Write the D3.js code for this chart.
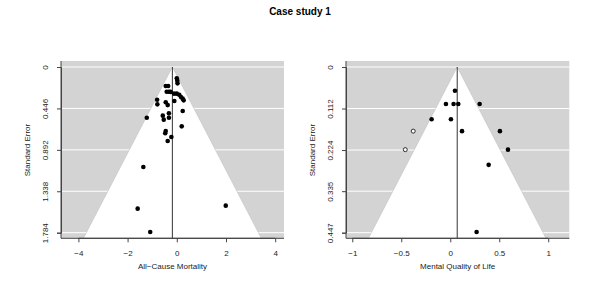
<!DOCTYPE html>
<html><head><meta charset="utf-8">
<script src="https://cdn.jsdelivr.net/npm/d3@7"></script>
<style>body{margin:0;background:#fff}svg{display:block}text{font-family:"Liberation Sans",Arial,sans-serif}</style>
</head><body>
<svg id="c" width="600" height="300"></svg>
<script>
const title = "Case study 1";
// Panel 1: All-Cause Mortality
const mortEst = [0.0,0.02,0.03,-0.45,-0.35,-0.41,-0.32,-0.25,-0.11,0.0,0.10,0.17,0.24,0.28,-0.10,-0.80,-0.79,-0.45,-0.37,0.24,-1.22,-0.57,-0.53,-0.32,-0.32,0.20,-0.45,-0.47,-0.22,-0.37,-1.36,-1.59,1.99,-1.08];
const mortSE  = [0.122,0.147,0.176,0.205,0.205,0.266,0.266,0.268,0.287,0.287,0.300,0.323,0.341,0.359,0.366,0.352,0.402,0.380,0.410,0.474,0.546,0.524,0.567,0.499,0.546,0.639,0.689,0.714,0.754,0.797,1.077,1.525,1.493,1.777];
const mortCenter = -0.18;
const mortXTicks = [-4,-2,0,2,4];
const mortYTicks = [0,0.446,0.892,1.338,1.784];
const mortYLabels = ["0","0.446","0.892","1.338","1.784"];
// Panel 2: Mental Quality of Life
const mqolEst = [0.048,-0.044,0.034,0.082,0.30,-0.19,0.007,0.12,0.507,0.589,0.392,0.269,-0.378,-0.459];
const mqolSE  = [0.064,0.100,0.100,0.100,0.100,0.141,0.141,0.173,0.173,0.223,0.264,0.445,0.173,0.223];
const mqolFilled = [1,1,1,1,1,1,1,1,1,1,1,1,0,0];
const mqolCenter = 0.071;
const mqolXTicks = [-1,-0.5,0,0.5,1];
const mqolYTicks = [0,0.112,0.224,0.335,0.447];
const mqolYLabels = ["0","0.112","0.224","0.335","0.447"];

const svg = d3.select("#c");
svg.append("text").attr("x",300).attr("y",15).attr("text-anchor","middle")
  .attr("font-size","10px").attr("font-weight","bold").text(title);

function panel(cfg){
  const g = svg.append("g");
  const x = d3.scaleLinear().domain(cfg.xdom).range([cfg.left, cfg.right]);
  const y = d3.scaleLinear().domain([0, cfg.ymaxTick]).range([67, 232.7]);
  const top = 61, bot = 238.3;
  const ybot = y.invert(bot);
  g.append("rect").attr("x",cfg.left).attr("y",top).attr("width",cfg.right-cfg.left).attr("height",bot-top).attr("fill","#d3d3d3");
  g.selectAll("line.grid").data(cfg.yTicks).enter().append("line")
    .attr("x1",cfg.left).attr("x2",cfg.right).attr("y1",d=>y(d)).attr("y2",d=>y(d))
    .attr("stroke","#fff").attr("stroke-width",1);
  const c = cfg.center;
  const pts = [[c-1.96*ybot, ybot],[c,0],[c+1.96*ybot, ybot]];
  g.append("polygon").attr("points", pts.map(p=>[x(p[0]),y(p[1])].join(",")).join(" "))
    .attr("fill","#fff").attr("stroke","#bbb").attr("stroke-width",0.5);
  g.append("line").attr("x1",x(c)).attr("x2",x(c)).attr("y1",y(0)).attr("y2",bot)
    .attr("stroke","#333").attr("stroke-width",1);
  g.selectAll("circle").data(cfg.est.map((e,i)=>({e,s:cfg.se[i],f:cfg.filled?cfg.filled[i]:1}))).enter()
    .append("circle").attr("cx",d=>x(d.e)).attr("cy",d=>y(d.s))
    .attr("r",d=>d.f?2.3:2).attr("fill",d=>d.f?"#000":"#fff").attr("stroke","#000").attr("stroke-width",d=>d.f?0:0.8);
  // L box
  g.append("path").attr("d",`M${cfg.left},${top}V${bot}H${cfg.right}`).attr("fill","none").attr("stroke","#444").attr("stroke-width",1);
  // x axis
  const xa = g.append("g").attr("transform",`translate(0,${bot})`)
    .call(d3.axisBottom(x).tickValues(cfg.xTicks).tickSize(4).tickPadding(8).tickFormat(d=>String(d).replace("-","\u2212")));
  xa.select(".domain").attr("stroke","#444").attr("d",`M${x(cfg.xTicks[0])},0H${x(cfg.xTicks[cfg.xTicks.length-1])}`);
  xa.selectAll(".tick line").attr("stroke","#444");
  xa.selectAll("text").attr("font-size","8px").attr("font-family","Liberation Sans, Arial, sans-serif").attr("fill","#222");
  // y axis
  const ya = g.append("g").attr("transform",`translate(${cfg.left},0)`)
    .call(d3.axisLeft(y).tickValues(cfg.yTicks).tickSize(4).tickFormat((d,i)=>cfg.yLabels[i]));
  ya.select(".domain").attr("stroke","#444");
  ya.selectAll(".tick line").attr("stroke","#444");
  ya.selectAll("text").attr("font-size","8px").attr("font-family","Liberation Sans, Arial, sans-serif").attr("fill","#222")
    .attr("x",null).attr("dy",null).attr("text-anchor","middle")
    .attr("transform","translate(-16,0) rotate(-90)").attr("y",3);
  g.append("text").attr("x",(cfg.left+cfg.right)/2).attr("y",269).attr("text-anchor","middle")
    .attr("font-size","8px").attr("fill","#222").text(cfg.xlabel);
  g.append("text").attr("transform",`translate(${cfg.left-31},150) rotate(-90)`).attr("text-anchor","middle")
    .attr("font-size","8px").attr("fill","#222").text("Standard Error");
}
panel({left:61,right:284,xdom:[-4.707,4.358],ymaxTick:1.784,center:mortCenter,est:mortEst,se:mortSE,
  xTicks:mortXTicks,yTicks:mortYTicks,yLabels:mortYLabels,xlabel:"All\u2212Cause Mortality"});
panel({left:346,right:569.3,xdom:[-1.064,1.215],ymaxTick:0.447,center:mqolCenter,est:mqolEst,se:mqolSE,filled:mqolFilled,
  xTicks:mqolXTicks,yTicks:mqolYTicks,yLabels:mqolYLabels,xlabel:"Mental Quality of Life"});
</script>
</body></html>
